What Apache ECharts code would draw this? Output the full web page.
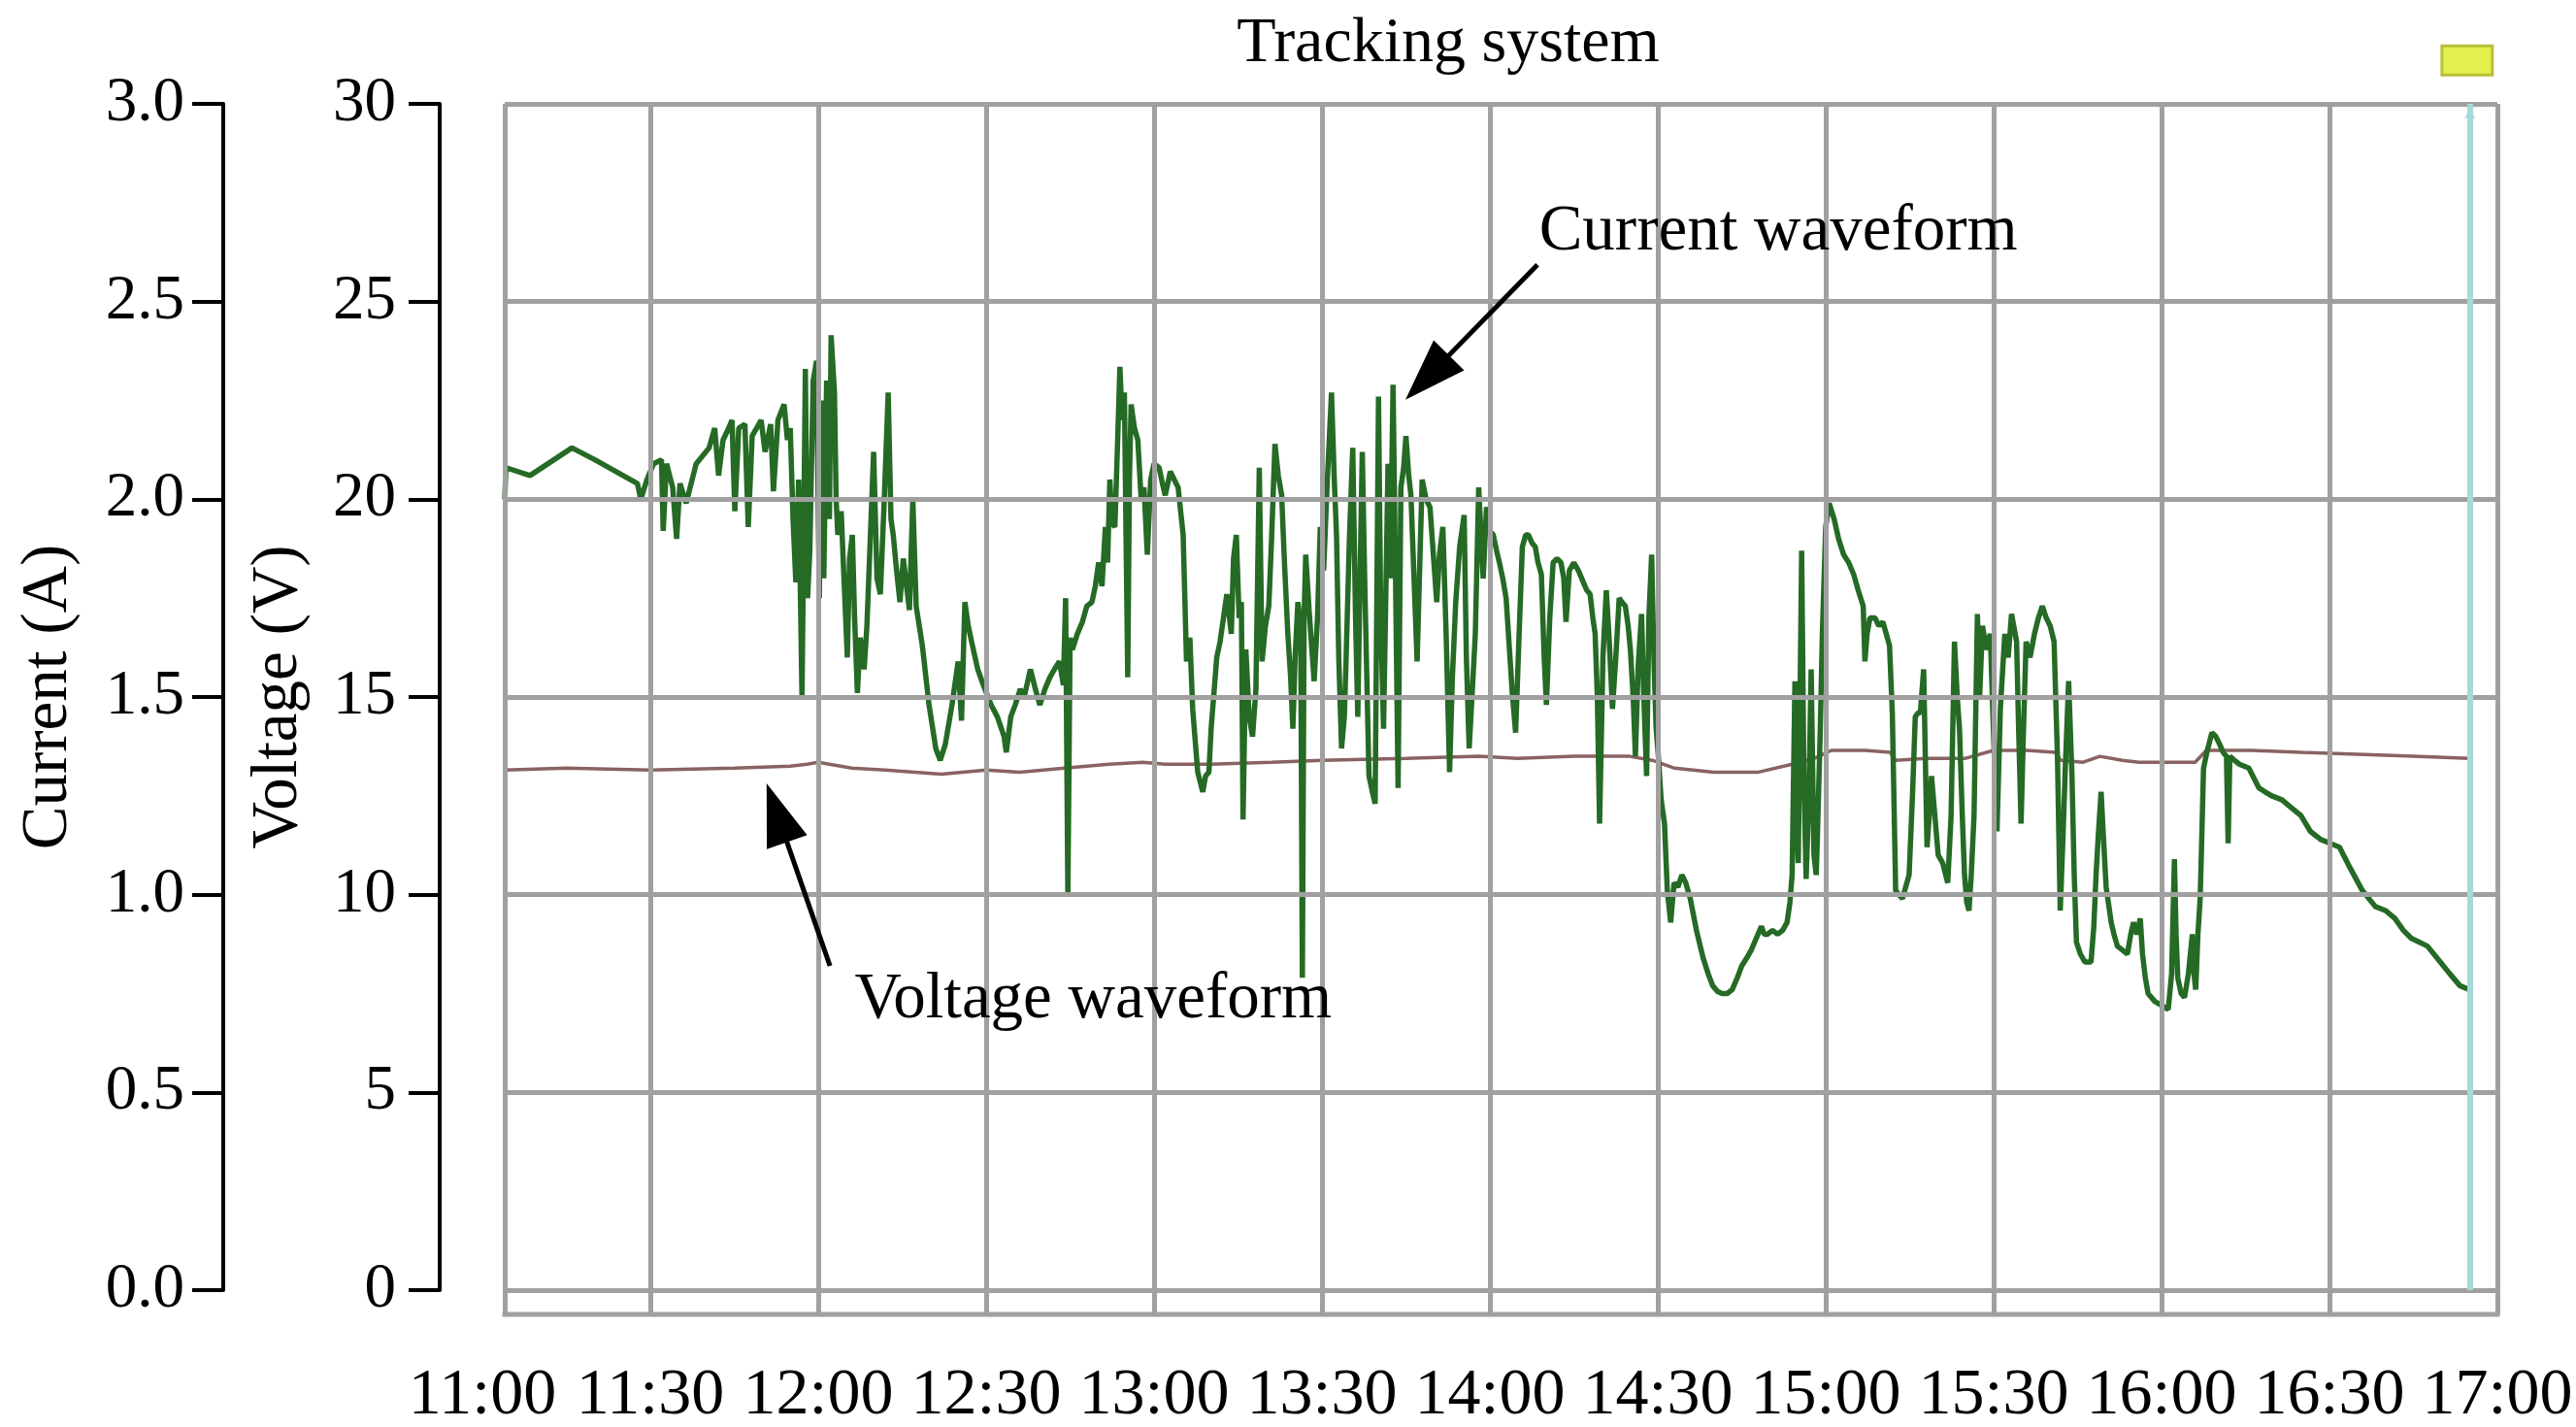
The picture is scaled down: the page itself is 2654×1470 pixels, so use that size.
<!DOCTYPE html>
<html><head><meta charset="utf-8">
<script src="https://cdn.jsdelivr.net/npm/echarts@6/dist/echarts.min.js"></script>
<style>html,body{margin:0;padding:0;background:#fff}#c{width:2654px;height:1470px}</style>
</head><body><div id="c"></div>
<script>
// ---- data (minutes after 11:00, value) ----
const timeLabels = ['11:00','11:30','12:00','12:30','13:00','13:30','14:00','14:30','15:00','15:30','16:00','16:30','17:00'];
const currentTickLabels = ['0.0','0.5','1.0','1.5','2.0','2.5','3.0'];
const voltageTickLabels = ['0','5','10','15','20','25','30'];

const currentWave = [
[4.0,2.00],[4.2,2.08],[8.5,2.06],[16.0,2.13],[20.1,2.10],[27.7,2.04],[28.3,2.00],[29.4,2.05],[30.6,2.09],[32.0,2.10],[32.3,1.92],[32.9,2.09],[34.0,2.03],[34.7,1.90],[35.3,2.04],[36.4,1.99],[38.2,2.09],[40.5,2.13],[41.5,2.18],[42.2,2.06],[43.0,2.15],[44.0,2.18],[44.6,2.20],[45.1,1.97],[45.8,2.18],[46.9,2.19],[47.5,1.93],[48.2,2.16],[49.8,2.20],[50.5,2.12],[51.5,2.19],[52.0,2.02],[52.8,2.20],[53.9,2.24],[54.5,2.15],[55.0,2.18],[55.5,1.95],[56.0,1.79],[56.5,2.05],[57.1,1.50],[57.4,1.90],[57.7,2.33],[58.1,1.75],[58.5,1.87],[59.1,2.30],[59.7,2.35],
[60.2,1.75],[60.6,2.25],[61.0,1.80],[61.5,2.30],[62.0,1.95],[62.3,2.415],[62.9,2.27],[63.2,2.00],[63.5,1.91],[64.1,1.97],[64.6,1.80],[65.2,1.60],[65.6,1.85],[66.1,1.91],[66.5,1.70],[67.0,1.51],[67.5,1.65],[68.2,1.57],[68.7,1.68],[69.3,1.90],[69.9,2.12],[70.5,1.80],[71.1,1.76],[71.8,2.00],[72.5,2.27],[73.0,1.95],[73.4,1.91],[74.0,1.82],[74.6,1.74],[75.2,1.85],[75.7,1.79],[76.3,1.72],[76.9,2.00],[77.5,1.73],[78.6,1.63],[79.8,1.48],[81.0,1.37],[81.8,1.34],[82.7,1.38],[83.9,1.48],[85.0,1.59],[85.6,1.44],[86.2,1.74],[86.8,1.68],[87.4,1.64],[88.5,1.57],[89.5,1.53],[90.9,1.48],[92.0,1.45],[93.2,1.40],[93.6,1.36],[94.4,1.45],[95.2,1.48],[96.1,1.52],[96.8,1.50],[97.9,1.57],[98.8,1.52],[99.6,1.48],[100.5,1.52],[101.4,1.55],[102.2,1.57],[103.1,1.59],[103.8,1.53],[104.2,1.75],[104.6,1.00],[105.0,1.65],[105.4,1.62],[106.3,1.66],[107.2,1.69],[108.0,1.73],[108.9,1.74],[109.5,1.78],[110.1,1.84],[110.7,1.78],[111.3,1.93],[111.7,1.84],[112.1,2.05],[112.5,1.94],[113.0,1.93],[113.5,2.15],[113.9,2.335],[114.3,2.20],[114.7,2.27],[115.0,1.90],[115.3,1.55],[115.6,2.05],[115.9,2.24],[116.5,2.18],[117.1,2.15],[117.7,2.00],[118.2,2.03],[118.8,1.86],[119.4,2.05],[120.0,2.09],
[120.9,2.08],[121.5,2.04],[122.0,2.01],[122.9,2.07],[123.6,2.05],[124.3,2.03],[125.2,1.91],[125.8,1.59],[126.4,1.65],[126.9,1.47],[127.8,1.31],[128.7,1.26],[129.2,1.30],[129.8,1.31],[130.2,1.42],[130.7,1.51],[131.2,1.60],[131.8,1.64],[132.4,1.70],[133.0,1.76],[133.8,1.66],[134.2,1.85],[134.7,1.91],[135.2,1.70],[135.6,1.74],[135.9,1.19],[136.4,1.62],[137.0,1.45],[137.6,1.40],[138.2,1.52],[138.8,2.08],[139.3,1.59],[139.9,1.68],[140.5,1.73],[141.0,1.90],[141.6,2.14],[142.2,2.06],[142.8,2.01],[143.3,1.84],[143.9,1.66],[144.4,1.55],[144.8,1.42],[145.2,1.60],[145.7,1.74],[146.2,1.68],[146.5,0.79],[146.8,1.70],[147.1,1.86],[147.7,1.72],[148.6,1.54],[149.2,1.70],[149.7,1.93],[150.3,1.82],[150.9,2.03],[151.7,2.27],[152.2,2.05],[152.6,1.91],[153.0,1.60],[153.5,1.37],[154.0,1.45],[154.3,1.59],[154.9,1.90],[155.5,2.13],[156.0,1.70],[156.4,1.45],[156.8,1.80],[157.2,2.12],[157.7,1.75],[158.4,1.30],[159.0,1.26],[159.5,1.23],[160.1,2.26],[160.5,1.70],[161.0,1.42],[161.4,1.75],[161.8,2.09],[162.2,1.80],[162.7,2.29],[163.1,1.85],[163.6,1.27],[164.1,2.03],[164.6,2.08],[165.0,2.16],[165.5,2.06],[165.9,2.01],[166.5,1.78],[167.0,1.59],[167.5,1.85],[167.9,2.05],[168.6,2.00],[169.3,1.98],[169.9,1.86],[170.5,1.74],[171.0,1.86],[171.6,1.93],[172.2,1.65],[172.8,1.31],[173.3,1.55],[173.9,1.74],[174.6,1.88],[175.4,1.96],[175.8,1.60],[176.3,1.37],[176.8,1.50],[177.4,1.66],[178.0,2.03],
[178.3,2.03],[178.8,1.80],[179.4,1.98],[180.0,1.92],[180.6,1.91],[181.2,1.87],[181.7,1.84],[182.3,1.80],[182.9,1.75],[183.5,1.62],[184.0,1.51],[184.6,1.41],[185.2,1.65],[185.8,1.88],[186.4,1.91],[186.9,1.91],[187.5,1.89],[188.1,1.88],[188.6,1.84],[189.2,1.81],[189.7,1.60],[190.1,1.48],[190.7,1.70],[191.3,1.84],[192.0,1.85],[192.7,1.84],[193.2,1.80],[193.6,1.69],[194.2,1.82],[195.0,1.84],[195.8,1.82],[196.7,1.79],[197.3,1.77],[197.9,1.76],[198.4,1.70],[198.8,1.66],[199.2,1.50],[199.6,1.18],[200.2,1.60],[200.8,1.77],[201.3,1.65],[201.9,1.47],[202.5,1.60],[203.1,1.75],[203.6,1.74],[204.2,1.73],[204.7,1.68],[205.1,1.62],[205.6,1.50],[206.0,1.35],[206.5,1.58],[207.1,1.71],[207.5,1.50],[208.0,1.30],[208.4,1.70],[208.9,1.86],[209.3,1.60],[209.7,1.42],[210.1,1.35],[210.6,1.24],[211.2,1.18],[211.7,1.01],[212.3,0.93],[212.9,1.03],[213.6,1.02],[214.3,1.05],[215.0,1.03],[215.8,0.99],[216.9,0.91],[218.1,0.84],[219.0,0.80],[219.8,0.77],[220.7,0.755],[221.5,0.75],[222.4,0.75],[223.3,0.76],[224.2,0.79],[225.0,0.82],[225.9,0.84],[226.7,0.86],[227.6,0.89],[228.5,0.92],[229.0,0.90],[229.6,0.90],[230.5,0.91],[231.4,0.90],[232.3,0.91],[233.1,0.93],[233.6,0.98],[234.0,1.05],[234.5,1.54],[234.8,1.20],[235.1,1.08],[235.7,1.87],[236.1,1.30],[236.5,1.04],[237.0,1.25],[237.4,1.57],[237.9,1.10],[238.3,1.05],
[238.5,1.14],[239.0,1.40],[239.4,1.66],[240.0,1.93],[240.6,1.99],[241.5,1.95],[242.3,1.90],[243.2,1.86],[244.1,1.84],[245.0,1.81],[245.8,1.77],[246.7,1.73],[247.0,1.59],[247.4,1.66],[247.9,1.70],[248.8,1.70],[249.5,1.68],[250.2,1.69],[250.8,1.66],[251.4,1.63],[251.9,1.46],[252.5,1.01],[253.1,1.00],[253.7,0.99],[254.3,1.02],[254.9,1.05],[255.5,1.25],[256.0,1.45],[256.5,1.46],[256.9,1.46],[257.5,1.57],[258.1,1.12],[258.5,1.20],[258.9,1.30],[259.5,1.20],[260.1,1.10],[260.9,1.08],[261.8,1.03],[262.4,1.20],[263.0,1.64],[263.5,1.50],[263.9,1.42],[264.4,1.20],[264.8,1.05],[265.2,0.98],[265.6,0.96],[266.0,1.05],[266.5,1.20],[267.1,1.71],[267.5,1.50],[268.0,1.68],[268.7,1.62],[269.4,1.66],[270.0,1.40],[270.6,1.16],[271.2,1.47],[272.0,1.66],[272.6,1.60],[273.2,1.71],[274.1,1.64],[274.5,1.40],[274.9,1.18],[275.3,1.40],[275.8,1.64],[276.5,1.60],[277.3,1.66],[278.0,1.70],[278.7,1.73],[279.4,1.70],[280.1,1.68],[280.8,1.64],[281.4,1.35],[281.9,0.96],[282.4,1.15],[282.8,1.32],[283.4,1.54],[284.0,1.30],[284.4,1.05],[284.8,0.88],[285.5,0.85],[286.3,0.83],[287.4,0.83],[287.9,0.92],[288.3,1.05],[288.7,1.15],[289.2,1.26],[289.6,1.15],[290.1,1.02],[290.5,0.98],[291.0,0.93],[291.5,0.90],[292.1,0.87],[293.0,0.86],[293.9,0.85],[294.5,0.90],[295.0,0.93],[295.6,0.90],[296.2,0.94],[296.6,0.85],[297.1,0.79],
[297.6,0.75],[298.8,0.73],[300.0,0.72],[301.2,0.71],[301.8,0.80],[302.3,1.09],[302.6,0.90],[302.9,0.79],[303.5,0.75],[304.1,0.74],[304.8,0.80],[305.5,0.90],[305.8,0.80],[306.1,0.76],[306.5,0.90],[306.9,0.99],[307.2,1.15],[307.5,1.32],[308.1,1.36],[309.0,1.41],[309.7,1.40],[310.4,1.38],[311.0,1.36],[311.6,1.35],[311.9,1.13],[312.2,1.35],[313.0,1.34],[313.9,1.33],[315.6,1.32],[317.4,1.27],[318.5,1.26],[319.7,1.25],[321.5,1.24],[323.2,1.22],[324.9,1.20],[326.6,1.16],[328.4,1.14],[330.1,1.13],[331.8,1.12],[333.6,1.07],[335.9,1.01],[338.2,0.97],[340.0,0.96],[341.7,0.94],[343.2,0.91],[344.6,0.89],[347.5,0.87],[349.8,0.83],[351.5,0.80],[353.3,0.77],[355.0,0.76]
];

const voltageWave = [
[4,13.15],[15,13.2],[30,13.15],[45,13.2],[55,13.25],[58,13.3],[60,13.35],[62,13.3],[66,13.2],[72,13.15],[82,13.05],[90,13.15],[96,13.1],[104,13.2],[112,13.3],[118,13.35],[122,13.3],[130,13.3],[141,13.35],[150,13.4],[165,13.45],[178,13.5],[185,13.45],[195,13.5],[205,13.5],[209,13.4],[213,13.2],[220,13.1],[228,13.1],[234,13.3],[238,13.45],[241,13.65],[247,13.65],[251.5,13.6],[252.5,13.4],[258,13.45],[265,13.45],[270,13.65],[276,13.65],[281,13.6],[282,13.4],[286,13.35],[289,13.5],[293,13.4],[296,13.35],[300,13.35],[306,13.35],[308,13.65],[316,13.65],[325,13.6],[335,13.55],[345,13.5],[355,13.45]
];

// plot frame (recorder grid), in minutes / volts
const frameStart = 4, frameEnd = 360;
const verticalGrid = [4,30,60,90,120,150,180,210,240,270,300,330,360];
const horizontalGrid = [0,5,10,15,20,25,30];
const cursorTime = 355.1;
const cursorFlag = [354.6, 31.1];

const annotationTexts = [
  {name:'Current waveform', coord:[188.7, 26.76]},
  {name:'Voltage waveform', coord:[66.4, 7.34]}
];
const annotationArrows = [
  {from:[188.5, 25.93], to:[168.8, 23.08]},
  {from:[62.1, 8.2], to:[52.6, 12.07]}
];

// ---- chart ----
const FONT = '"Liberation Serif","Times New Roman",serif';
const GRID_GRAY = '#a0a0a0';
const chart = echarts.init(document.getElementById('c'), null, {renderer:'canvas'});

const gridLines = [];
verticalGrid.forEach(t => gridLines.push({xAxis: t}));
horizontalGrid.forEach(v => gridLines.push([{coord:[frameStart, v]}, {coord:[frameEnd, v]}]));

const arrowLines = annotationArrows.map(a => [
  {coord: a.from, symbol:'none'},
  {coord: a.to, symbol:'triangle', symbolSize:[44, 64]}
]);
arrowLines.push({xAxis: cursorTime, lineStyle:{color:'#a6d9d9', width:6}, symbol:'none'});

const option = {
  animation: false,
  backgroundColor: '#ffffff',
  title: {
    text: 'Tracking system', left: 1492, top: 13, padding: 0, textAlign: 'center',
    textStyle: {fontFamily: FONT, fontSize: 66, fontWeight: 'normal', color: '#000'}
  },
  grid: {left: 497, right: 81, top: 107, bottom: 141, containLabel: false, outerBoundsMode: 'none'},
  xAxis: [{
    type: 'value', min: 0, max: 360, interval: 30, position: 'bottom', offset: 25,
    axisLine: {show: false, onZero: false},
    axisTick: {show: true, inside: true, length: 25, customValues: verticalGrid, lineStyle: {color: GRID_GRAY, width: 5}},
    axisLabel: {show: true, margin: 50, fontFamily: FONT, fontSize: 68, color: '#000',
      formatter: v => timeLabels[Math.round(v / 30)] || ''},
    splitLine: {show: false}
  }],
  yAxis: [{
    type: 'value', min: 0, max: 3, interval: 0.5, position: 'left', offset: 267,
    name: 'Current (A)', nameLocation: 'middle', nameGap: 146, nameRotate: 90,
    nameTextStyle: {fontFamily: FONT, fontSize: 67, color: '#000'},
    axisLine: {show: true, onZero: false, lineStyle: {color: '#000', width: 4}},
    axisTick: {show: true, inside: false, length: 32, lineStyle: {color: '#000', width: 4}},
    axisLabel: {show: true, margin: 40, fontFamily: FONT, fontSize: 65, color: '#000',
      formatter: v => currentTickLabels[Math.round(v / 0.5)] || ''},
    splitLine: {show: false}
  }, {
    type: 'value', min: 0, max: 30, interval: 5, position: 'left', offset: 44,
    name: 'Voltage (V)', nameLocation: 'middle', nameGap: 132, nameRotate: 90,
    nameTextStyle: {fontFamily: FONT, fontSize: 67, color: '#000'},
    axisLine: {show: true, onZero: false, lineStyle: {color: '#000', width: 4}},
    axisTick: {show: true, inside: false, length: 32, lineStyle: {color: '#000', width: 4}},
    axisLabel: {show: true, margin: 45, fontFamily: FONT, fontSize: 65, color: '#000',
      formatter: v => voltageTickLabels[Math.round(v / 5)] || ''},
    splitLine: {show: false}
  }],
  series: [{
    name: 'frame', type: 'line', xAxisIndex: 0, yAxisIndex: 1, data: [], z: 1, silent: true,
    markLine: {silent: true, symbol: ['none','none'], animation: false, label: {show: false},
      lineStyle: {color: GRID_GRAY, width: 5, type: 'solid'}, emphasis: {disabled: true},
      data: gridLines}
  }, {
    name: 'Voltage waveform', type: 'line', xAxisIndex: 0, yAxisIndex: 1, data: voltageWave,
    showSymbol: false, symbol: 'none', z: 3, silent: true,
    lineStyle: {color: '#8a6262', width: 3.5}, itemStyle: {color: '#8a6262'}
  }, {
    name: 'Current waveform', type: 'line', xAxisIndex: 0, yAxisIndex: 0, data: currentWave,
    showSymbol: false, symbol: 'none', z: 4, silent: true,
    lineStyle: {color: '#256a25', width: 5.5}, itemStyle: {color: '#256a25'}
  }, {
    name: 'annotations', type: 'line', xAxisIndex: 0, yAxisIndex: 1, data: [], z: 6, silent: true,
    markLine: {silent: true, animation: false, label: {show: false}, emphasis: {disabled: true},
      lineStyle: {color: '#000', width: 5, type: 'solid'}, itemStyle: {color: '#000'},
      data: arrowLines},
    markPoint: {silent: true, animation: false, symbol: 'rect', symbolSize: 1,
      itemStyle: {color: 'rgba(0,0,0,0)'},
      label: {show: true, position: 'right', distance: 0, color: '#000', fontFamily: FONT, fontSize: 67,
        formatter: p => p.name},
      data: annotationTexts}
  }]
};
chart.setOption(option);

// recorder decorations positioned through the chart's own scales
const fp = chart.convertToPixel({xAxisIndex: 0, yAxisIndex: 1}, cursorFlag);
const b0 = chart.convertToPixel({xAxisIndex: 0, yAxisIndex: 1}, [frameStart, 0]);
const b1 = chart.convertToPixel({xAxisIndex: 0, yAxisIndex: 1}, [frameEnd, 0]);
const bottomGap = 25;
chart.setOption({graphic: [
  {type: 'line', silent: true, z: 2,
    shape: {x1: b0[0] - 2.5, y1: b0[1] + bottomGap, x2: b1[0] + 2.5, y2: b1[1] + bottomGap},
    style: {stroke: GRID_GRAY, lineWidth: 5}},
  {type: 'rect', silent: true, z: 10,
    shape: {x: fp[0] - 26, y: fp[1] - 15, width: 52, height: 30},
    style: {fill: '#e4ee4c', stroke: '#b8bf3a', lineWidth: 3}}
]});
</script>
</body></html>
